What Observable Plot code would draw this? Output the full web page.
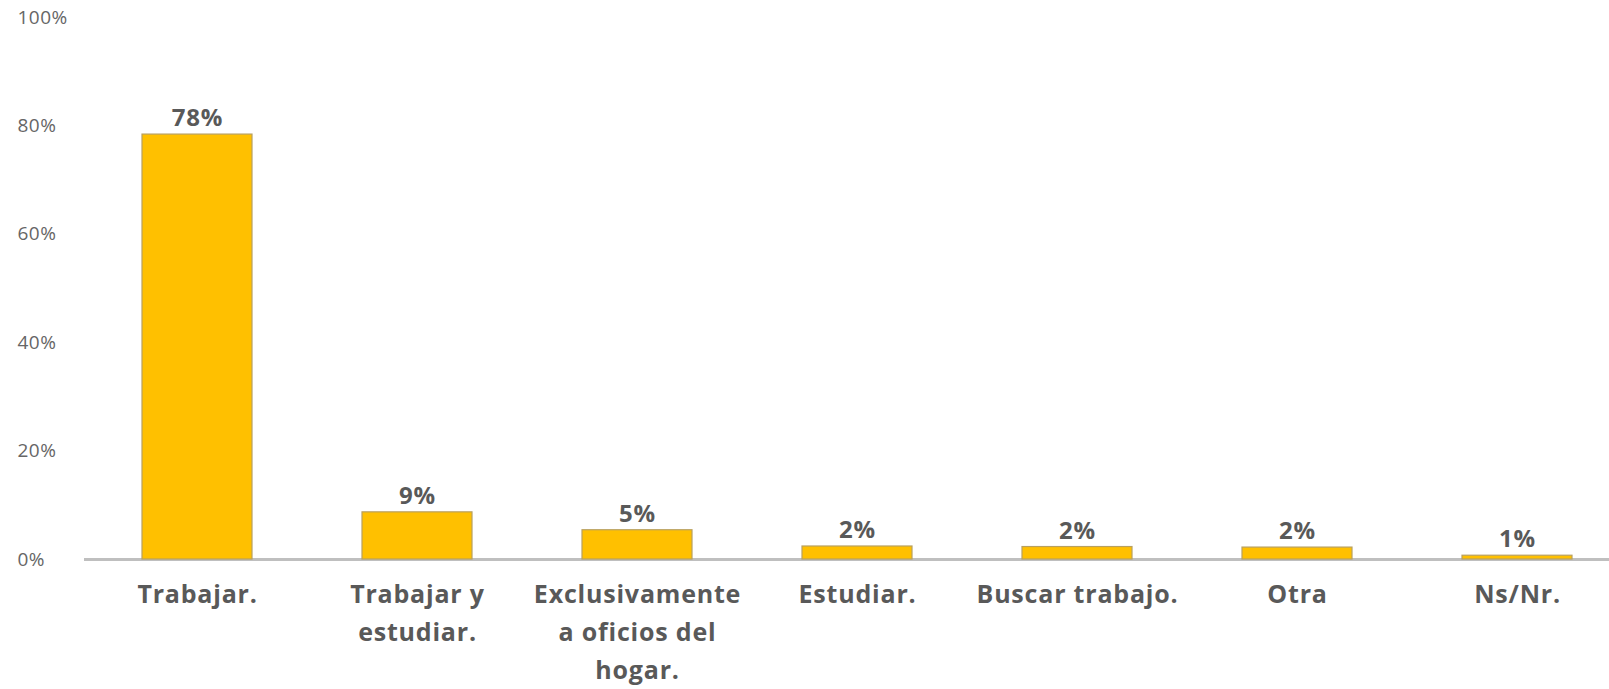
<!DOCTYPE html>
<html>
<head>
<meta charset="utf-8">
<script src="https://cdn.jsdelivr.net/npm/d3@7"></script>
<script src="https://cdn.jsdelivr.net/npm/@observablehq/plot@0.6"></script>
<style>
  html, body { margin: 0; padding: 0; background: #fff; overflow: hidden; }
  #chart svg { display: block; }
  #chart svg text { letter-spacing: 0.8px; }
  #chart svg g[aria-label="y-axis tick label"] text { letter-spacing: 0.5px; }
</style>
</head>
<body>
<div id="chart"></div>
<script>
const categories = [
  "Trabajar.",
  "Trabajar y\nestudiar.",
  "Exclusivamente\na oficios del\nhogar.",
  "Estudiar.",
  "Buscar trabajo.",
  "Otra",
  "Ns/Nr."
];
const values = [78.4, 8.7, 5.4, 2.4, 2.3, 2.2, 0.7];
const yTicks = [0, 20, 40, 60, 80, 100];

const data = categories.map((c, i) => ({ category: c, value: values[i] }));

const chart = Plot.plot({
  width: 1609,
  height: 689,
  marginTop: 17,
  marginBottom: 130,
  marginLeft: 84,
  marginRight: 0,
  style: { fontFamily: "'Open Sans', sans-serif", background: "#fff" },
  x: { domain: categories, range: [84, 1630], paddingInner: 0.5, paddingOuter: 0.25, label: null },
  y: { domain: [0, 100], label: null },
  marks: [
    Plot.axisY({
      ticks: yTicks,
      tickFormat: d => d + "%",
      tickSize: 0,
      tickPadding: 0,
      textAnchor: "start",
      dx: -67,
      fontSize: 19,
      fill: "#666666",
      label: null
    }),
    Plot.ruleY([0], { stroke: "#bfbfbf", strokeWidth: 3 }),
    Plot.barY(data, {
      x: "category",
      y: "value",
      fill: "#FFC000",
      stroke: "#b8a060",
      strokeWidth: 1.2
    }),
    Plot.text(data, {
      x: "category",
      y: "value",
      text: d => Math.round(d.value) + "%",
      dy: -16,
      fontSize: 24,
      fontWeight: "bold",
      fill: "#595959"
    }),
    Plot.axisX({
      tickSize: 0,
      tickPadding: 17,
      fontSize: 25,
      fontWeight: "bold",
      fill: "#595959",
      lineHeight: 1.52,
      label: null
    })
  ]
});
document.getElementById("chart").appendChild(chart);
</script>
</body>
</html>
